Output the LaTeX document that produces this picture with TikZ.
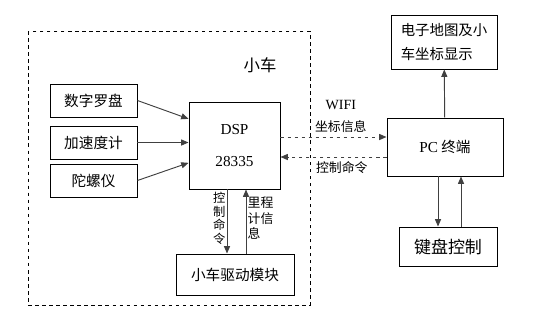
\documentclass[tikz,border=0pt]{standalone}
\usepackage{fontspec}
\setmainfont{Liberation Serif}
\newfontfamily\cjk{Noto Sans CJK SC}
\usetikzlibrary{arrows.meta, positioning}

\begin{document}
\begin{tikzpicture}[
            x=0.03cm, y=-0.03cm,
            font=\cjk\fontsize{12.5}{15}\selectfont,
            caja/.style={draw, line width=0.8pt, inner sep=2pt, align=center},
            sensor/.style={caja, minimum width=2.61cm, minimum height=0.99cm},
            flecha/.style={-{Triangle[length=2.2mm, width=1.8mm]}, line width=0.8pt, draw=black!75},
            flechad/.style={flecha, dashed},
            etiq/.style={font=\cjk\fontsize{11}{13}\selectfont, midway},
            vert/.style={font=\cjk\fontsize{10.5}{11.5}\selectfont, midway, inner sep=1pt, align=center}
        ]
        \useasboundingbox (0,0) rectangle (558,331);

        % Marco del coche
        \draw[dashed, line width=0.6pt] (28,31) rectangle (310,305);
        \node[font=\cjk\fontsize{14}{16}\selectfont] (titulo) at (260,65) {小车};

        % --- Sensores ---
        \node[sensor] (brujula) at (93.5,100.5) {数字罗盘};
        \node[sensor] (acel)    at (93.5,142.5) {加速度计};
        \node[sensor] (giro)    at (93.5,180.5) {陀螺仪};

        % --- DSP y motor ---
        \node[caja, minimum width=2.73cm, minimum height=2.61cm] (dsp) at (234.5,145.5)
            {\rmfamily\fontsize{13}{16}\selectfont DSP\\[0.45cm]\rmfamily\fontsize{13}{16}\selectfont 28335};
        \node[caja, minimum width=3.54cm, minimum height=1.23cm] (motor) at (235,274.5) {小车驱动模块};

        \draw[flecha] (brujula.east) -- ([yshift=0.8cm]dsp.west);
        \draw[flecha] (acel.east) -- (dsp.west |- acel.east);
        \draw[flecha] (giro.east) -- ([yshift=-0.52cm]dsp.west);

        \draw[flecha] ([xshift=-0.225cm]dsp.south) -- ([xshift=-0.225cm]dsp.south |- motor.north)
            node[vert, left, yshift=0.1cm] {控\\制\\命\\令};
        \draw[flecha] ([xshift=0.345cm]dsp.south |- motor.north) -- ([xshift=0.345cm]dsp.south)
            node[vert, right, align=left, yshift=0.1cm,
                 font=\cjk\fontsize{11}{13.5}\selectfont] {里程\\计信\\息};

        % --- PC ---
        \node[caja, minimum width=3.18cm, minimum height=1.62cm, align=left,
              font=\cjk\fontsize{12.3}{21}\selectfont] (mapa) at (444,42) {电子地图及小\\车坐标显示};
        \node[caja, minimum width=3.48cm, minimum height=1.74cm] (pc) at (445,147)
            {{\rmfamily\fontsize{13}{15}\selectfont PC} 终端};
        \node[caja, minimum width=2.94cm, minimum height=1.17cm,
              font=\cjk\fontsize{14.5}{16}\selectfont] (teclado) at (448,246.5) {键盘控制};

        \draw[flecha] (pc) -- (mapa);
        \draw[flecha] ([xshift=-0.21cm]pc.south) -- ([xshift=-0.21cm]pc.south |- teclado.north);
        \draw[flecha] ([xshift=0.48cm]pc.south |- teclado.north) -- ([xshift=0.48cm]pc.south);

        % --- Enlace WIFI ---
        \draw[flechad] ([yshift=0.255cm]dsp.east) -- ([yshift=0.255cm]dsp.east -| pc.west)
            node[etiq, above, align=center, xshift=0.22cm]
            {{\rmfamily\fontsize{12}{14}\selectfont WIFI}\\[0.2cm]坐标信息};
        \draw[flechad] ([yshift=-0.3cm]pc.west) -- ([yshift=-0.3cm]pc.west -| dsp.east)
            node[etiq, below, xshift=0.25cm] {控制命令};

        \end{tikzpicture}
\end{document}
